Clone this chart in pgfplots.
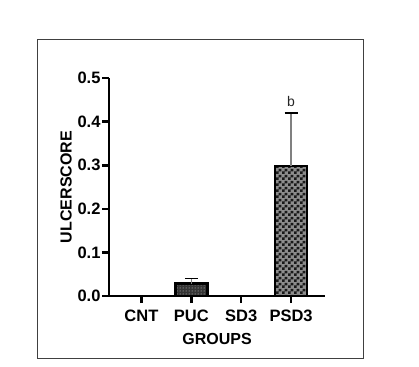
\documentclass[border=0pt]{standalone}
\usepackage{pgfplots}
\pgfplotsset{compat=1.18}
\usepackage{pgfplotstable}
\usetikzlibrary{patterns,patterns.meta}
\usepackage{fontspec}
\setmainfont{Liberation Sans}
\tikzdeclarepattern{
  name=finechecker2,
  type=uncolored,
  bottom left={(0pt,0pt)},
  top right={(6pt,6pt)},
  tile size={(6pt,6pt)},
  code={
    \pgfpathrectangle{\pgfpointorigin}{\pgfpoint{3pt}{3pt}}
    \pgfpathrectangle{\pgfpoint{3pt}{3pt}}{\pgfpoint{3pt}{3pt}}
    \pgfusepath{fill}
  }
}
\pgfplotstableread{
x y err
1 0.028 0.012
}\pucdata
\pgfplotstableread{
x y err
3 0.298 0.122
}\psddata
\begin{document}
\begin{tikzpicture}[x=1pt,y=1pt]
\useasboundingbox (0,0) rectangle (419,366);
\draw[black!75, line width=1pt] (37,8) rectangle (363,326);
\begin{axis}[
  at={(109pt,70pt)}, anchor=south west,
  scale only axis, width=216pt, height=218pt,
  xmin=-0.65, xmax=3.68, ymin=0, ymax=0.5,
  axis lines=left, axis line style={line width=2.6pt, -},
  xtick={0,1,2,3}, xticklabels={CNT,PUC,SD3,PSD3},
  ytick={0,0.1,0.2,0.3,0.4,0.5},
  yticklabel style={/pgf/number format/fixed, /pgf/number format/fixed zerofill, /pgf/number format/precision=1, xshift=2pt},
  /pgf/number format/assume math mode=true,
  tick style={black, line width=2.6pt},
  tick align=outside, major tick length=7pt,
  ticklabel style={font=\fontsize{16.5}{19}\selectfont\bfseries},
  xticklabel style={yshift=-3pt},
  xlabel={GROUPS}, ylabel={ULCERSCORE},
  label style={font=\fontsize{16}{19}\selectfont\bfseries},
  xlabel style={yshift=-5pt},
  ylabel style={yshift=-1pt},
  ybar, bar width=32pt, bar shift=0pt,
  clip=false,
]
\addplot[draw=black, line width=2.6pt, fill=black!80,
  postaction={pattern=dots, pattern color=white!85!black},
  error bars/.cd, y dir=plus, y explicit,
  error bar style={gray, line width=1pt},
  error mark options={black, line width=1.8pt, mark size=6.5pt, rotate=90}]
  table[x=x, y=y, y error=err] {\pucdata};
\addplot[draw=black, line width=2.6pt, fill=black!45,
  postaction={pattern=finechecker2, pattern color=black!90},
  error bars/.cd, y dir=plus, y explicit,
  error bar style={gray, line width=1.2pt},
  error mark options={black, line width=2.6pt, mark size=6.5pt, rotate=90}]
  table[x=x, y=y, y error=err] {\psddata};
\node[font=\fontsize{14}{16}\selectfont, text=black!85] at (axis cs:3,0.447) {b};
\end{axis}
\end{tikzpicture}
\end{document}
